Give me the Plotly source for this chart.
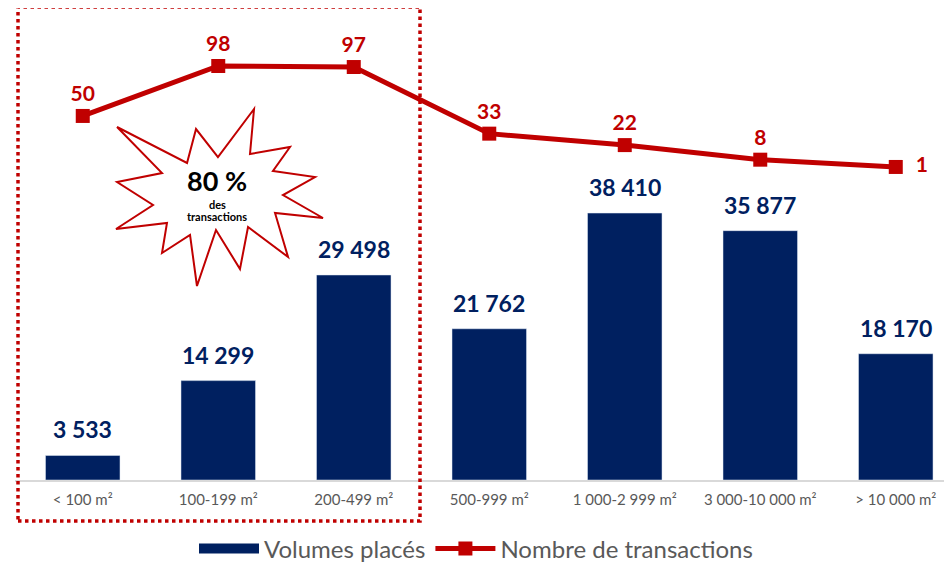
import plotly.graph_objects as go

categories = ["< 100 m²", "100-199 m²", "200-499 m²", "500-999 m²",
              "1 000-2 999 m²", "3 000-10 000 m²", "> 10 000 m²"]
volumes = [3533, 14299, 29498, 21762, 38410, 35877, 18170]
transactions = [50, 98, 97, 33, 22, 8, 1]

navy = "#002060"
red = "#C00000"
grey = "#595959"
font = "Lato"

# page puts the figure 8px in from the top-left corner
OFF = 8
FW, FH = 952 - OFF, 564 - OFF
# plot area in figure px
L, T, W, H = 7, 0, 937, 472


def to_paper(px, py):
    # px, py are screen positions
    return (px - OFF - L) / W, (T + H - (py - OFF)) / H


fig = go.Figure()

fig.add_trace(go.Bar(
    x=categories, y=volumes, name="Volumes placés",
    marker=dict(color=navy), width=0.55, showlegend=False,
))

# legend stand-in for the bars (wide navy swatch)
fig.add_trace(go.Scatter(
    x=[None], y=[None], name="Volumes placés", mode="lines",
    line=dict(color=navy, width=14),
))

labels = [str(v) for v in transactions]
labels[-1] = "\u00a0\u00a0" + labels[-1]
fig.add_trace(go.Scatter(
    x=categories, y=transactions, name="Nombre de transactions",
    yaxis="y2", mode="lines+markers+text",
    line=dict(color=red, width=5),
    marker=dict(symbol="square", size=14, color=red),
    text=labels,
    textposition=["top center"] * 6 + ["middle right"],
    textfont=dict(family=font, size=21, color=red, weight="bold"),
    cliponaxis=False,
))

# bar value labels
for c, v in zip(categories, volumes):
    fig.add_annotation(
        x=c, y=v, yref="y", text=f"{v:,}".replace(",", " "),
        showarrow=False, yanchor="bottom", yshift=10,
        font=dict(family=font, size=23, color=navy, weight="bold"),
    )

# dotted frame around first three categories
x0, y0 = to_paper(18, 7)
x1, y1 = to_paper(420, 521)
fig.add_shape(type="rect", xref="paper", yref="paper",
              x0=x0, y0=y1, x1=x1, y1=y0,
              line=dict(color=red, width=3.5, dash="dot"), layer="above")

# starburst
star_px = [(254, 109), (218, 157), (196, 129), (187, 163), (117, 127), (162, 173),
           (117, 182), (153, 205), (116, 229), (167, 223), (162, 253), (190, 235),
           (197, 286), (216, 230), (240, 269), (248, 227), (288, 257), (275, 213),
           (323, 218), (283, 195), (315, 177), (273, 171), (290, 147), (250, 154)]
pts = [to_paper(px, py) for px, py in star_px]
path = "M " + " L ".join(f"{x:.4f},{y:.4f}" for x, y in pts) + " Z"
fig.add_shape(type="path", xref="paper", yref="paper", path=path,
              fillcolor="white", line=dict(color=red, width=2), layer="above")

for txt, py, size in [("80 %", 180, 27), ("des", 204, 11), ("transactions", 216, 11)]:
    sx, sy = to_paper(217, py)
    fig.add_annotation(xref="paper", yref="paper", x=sx, y=sy, text=f"<b>{txt}</b>",
                       xanchor="center", yanchor="middle", showarrow=False,
                       font=dict(family=font, size=size, color="black"))

fig.update_layout(
    width=FW, height=FH,
    margin=dict(l=L, r=FW - L - W, t=T, b=FH - T - H, autoexpand=False),
    plot_bgcolor="white", paper_bgcolor="white",
    font=dict(family=font, color=grey),
    showlegend=True,
    legend=dict(orientation="h", xref="container", yref="container",
                x=(476 - OFF) / FW, xanchor="center", y=(564 - 549) / FH,
                yanchor="middle", font=dict(size=24, color=grey),
                traceorder="normal", itemwidth=60),
    xaxis=dict(range=[-0.5, 6.415], showgrid=False, showline=True,
               linecolor="#D9D9D9", linewidth=2, ticks="", automargin=False,
               ticklabelstandoff=5, tickfont=dict(size=15, color=grey)),
    yaxis=dict(range=[0, 67914], visible=False),
    yaxis2=dict(range=[-299.7, 153.7], overlaying="y", visible=False),
)

fig.write_html("out.html")
